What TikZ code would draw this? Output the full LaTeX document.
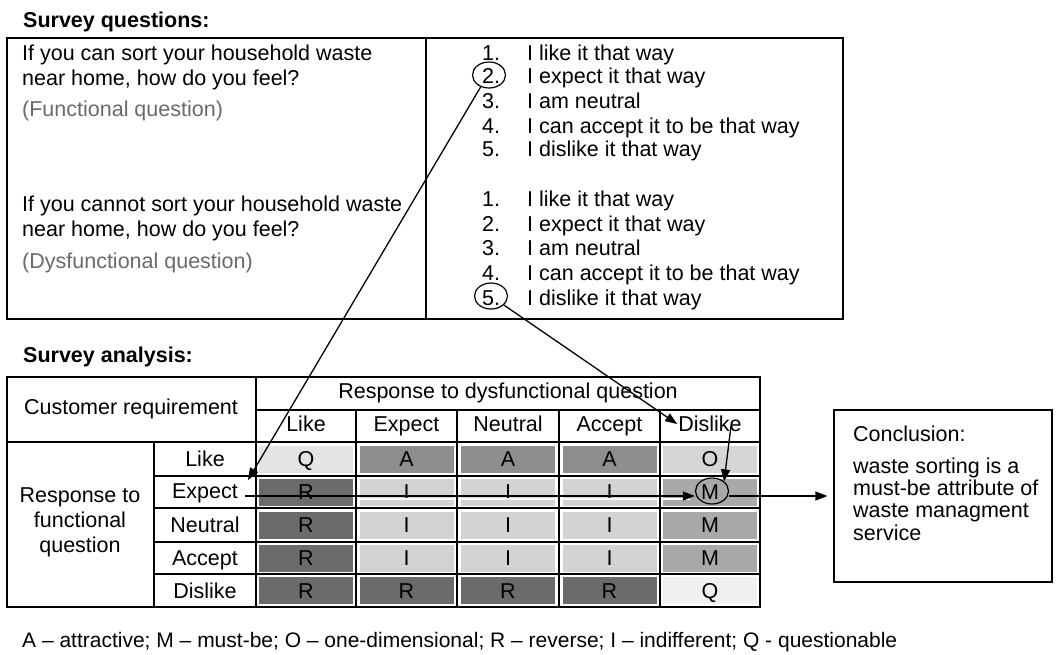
\documentclass[tikz,border=0pt]{standalone}
\usepackage{fontspec}
\setmainfont{Liberation Sans}
\usetikzlibrary{arrows.meta,shapes.geometric}
\definecolor{cellQa}{HTML}{E4E4E4}
\definecolor{cellQb}{HTML}{F0F0F0}
\definecolor{cellA}{HTML}{8E8E8E}
\definecolor{cellO}{HTML}{D6D6D6}
\definecolor{cellR}{HTML}{6B6B6B}
\definecolor{cellI}{HTML}{D3D3D3}
\definecolor{cellM}{HTML}{A9A9A9}
\definecolor{hint}{HTML}{6A6A6A}
\def\bodysize{\fontsize{21.5}{25}\selectfont}
\def\kcell#1[#2](#3)#4{\node[cellbox, fill=#2] (#1) at (#3) {#4};}
\tikzset{
  txt/.style={anchor=base west, inner sep=0pt},
  lbl/.style={text height=15.4pt, text depth=0pt, inner sep=0pt},
  cellbox/.style={lbl, minimum width=94pt, minimum height=27pt},
  ring/.style={draw, ellipse, line width=1.2pt, minimum width=33pt, minimum height=26pt, inner sep=0pt},
  arr/.style={line width=1.3pt, -{Triangle[length=12pt,width=9pt]}},
  tabline/.style={line width=1.2pt},
}

\begin{document}
\begin{tikzpicture}[x=1pt, y=-1pt, font=\bodysize]
			\useasboundingbox (0,0) rectangle (1056,654);
			
			%%%%% QUESTIONS %%%%%
			\node[txt, font=\bodysize\bfseries] (tq) at (23,27) {Survey questions:};
			\draw[tabline] (7,38) rectangle (843,319);
			\draw[tabline] (426,38) -- (426,319);
			
			\node[txt] (f1) at (22,60) {If you can sort your household waste};
			\node[txt] (f2) at (22,85) {near home, how do you feel?};
			\node[txt, text=hint] (f3) at (22,116) {(Functional question)};
			\node[txt] (d1) at (22,211) {If you cannot sort your household waste};
			\node[txt] (d2) at (22,236) {near home, how do you feel?};
			\node[txt, text=hint] (d3) at (22,268) {(Dysfunctional question)};
			
			\node[txt] (fn1) at (482,60) {1.};  \node[txt] (fa1) at (527,60) {I like it that way};
			\node[txt] (fn2) at (482,83) {2.};  \node[txt] (fa2) at (527,83) {I expect it that way};
			\node[txt] (fn3) at (482,108) {3.}; \node[txt] (fa3) at (527,108) {I am neutral};
			\node[txt] (fn4) at (482,133) {4.}; \node[txt] (fa4) at (527,133) {I can accept it to be that way};
			\node[txt] (fn5) at (482,156) {5.}; \node[txt] (fa5) at (527,156) {I dislike it that way};
			
			\node[txt] (dn1) at (482,206) {1.}; \node[txt] (da1) at (527,206) {I like it that way};
			\node[txt] (dn2) at (482,231) {2.}; \node[txt] (da2) at (527,231) {I expect it that way};
			\node[txt] (dn3) at (482,255) {3.}; \node[txt] (da3) at (527,255) {I am neutral};
			\node[txt] (dn4) at (482,280) {4.}; \node[txt] (da4) at (527,280) {I can accept it to be that way};
			\node[txt] (dn5) at (482,305) {5.}; \node[txt] (da5) at (527,305) {I dislike it that way};
			
			\node[ring] (q2) at (489,75) {};
			\node[ring] (q5) at (491,296) {};
			
			%%%%% ANALYSIS %%%%%
			\node[txt, font=\bodysize\bfseries] (ta) at (23,362) {Survey analysis:};
			
			\kcell{c11}[cellQa](306,459){Q}  \kcell{c12}[cellA](406.5,459){A} \kcell{c13}[cellA](508,459){A}  \kcell{c14}[cellA](609.5,459){A} \kcell{c15}[cellO](710,459){O}
			\kcell{c21}[cellR](306,492){R}   \kcell{c22}[cellI](406.5,492){I} \kcell{c23}[cellI](508,492){I}  \kcell{c24}[cellI](609.5,492){I} \kcell{c25}[cellM](710,492){M}
			\kcell{c31}[cellR](306,525){R}   \kcell{c32}[cellI](406.5,525){I} \kcell{c33}[cellI](508,525){I}  \kcell{c34}[cellI](609.5,525){I} \kcell{c35}[cellM](710,525){M}
			\kcell{c41}[cellR](306,558){R}   \kcell{c42}[cellI](406.5,558){I} \kcell{c43}[cellI](508,558){I}  \kcell{c44}[cellI](609.5,558){I} \kcell{c45}[cellM](710,558){M}
			\kcell{c51}[cellR](306,590.5){R} \kcell{c52}[cellR](406.5,590.5){R} \kcell{c53}[cellR](508,590.5){R} \kcell{c54}[cellR](609.5,590.5){R} \kcell{c55}[cellQb](710,590.5){Q}
			\draw[white, line width=2.5pt] (358,499) -- (690,499);
			
			\draw[tabline] (7,377) rectangle (760,607);
			\draw[tabline] (256,377) -- (256,607);
			\draw[tabline] (154,442) -- (154,607);
			\draw[tabline] (256,410) -- (760,410);
			\draw[tabline] (7,442) -- (760,442);
			\draw[tabline] (154,476) -- (760,476);
			\draw[tabline] (154,508) -- (760,508);
			\draw[tabline] (154,542) -- (760,542);
			\draw[tabline] (154,574) -- (760,574);
			\draw[tabline] (356,410) -- (356,607);
			\draw[tabline] (457,410) -- (457,607);
			\draw[tabline] (559,410) -- (559,607);
			\draw[tabline] (660,410) -- (660,607);
			
			\node[lbl] (hCust) at (131,407) {Customer requirement};
			\node[lbl] (hDys) at (508,391) {Response to dysfunctional question};
			\node[lbl] (hLike) at (306,424) {Like};
			\node[lbl] (hExp) at (406.5,424) {Expect};
			\node[lbl] (hNeu) at (508,424) {Neutral};
			\node[lbl] (hAcc) at (609.5,424) {Accept};
			\node[lbl, inner sep=1pt] (hDis) at (710,424) {Dislike};
			
			\node[align=center] (hFun) at (80,522) {Response to\\functional\\question};
			\node[lbl] (rLike) at (205,459) {Like};
			\node[lbl] (rExp) at (205,491) {Expect};
			\node[lbl] (rNeu) at (205,525) {Neutral};
			\node[lbl] (rAcc) at (205,558) {Accept};
			\node[lbl] (rDis) at (205,590.5) {Dislike};
			
			\node[ring] (mring) at (712,491) {};
			
			%%%%% CONCLUSION %%%%%
			\node[draw, line width=1.2pt, minimum width=218pt, minimum height=172pt, inner sep=0pt] (concl) at (943,496) {};
			\node[txt] (k0) at (853,441) {Conclusion:};
			\node[txt] (k1) at (853,473) {waste sorting is a};
			\node[txt] (k2) at (853,495) {must-be attribute of};
			\node[txt] (k3) at (853,517) {waste managment};
			\node[txt] (k4) at (853,540) {service};
			
			%%%%% ARROWS %%%%%
			\coordinate (xtip) at (248,480);
			\coordinate (xp) at (245,496);
			\coordinate (dk) at (731,426);
			\draw[arr] (q2.-125) -- (xtip);
			\draw[arr] (q5.-35) -- (hDis.west);
			\draw[arr] (xp) -- (xp -| mring.west);
			\draw[arr] (dk) -- (mring.north east);
			\draw[arr, shorten >=6pt] (mring.east |- concl.west) -- (concl.west);
			
			%%%%% LEGEND %%%%%
			\node[txt, font=\fontsize{21}{24}\selectfont] (leg) at (22,647) {A -- attractive; M -- must-be; O -- one-dimensional; R -- reverse; I -- indifferent; Q - questionable};
			
\end{tikzpicture}
\end{document}
